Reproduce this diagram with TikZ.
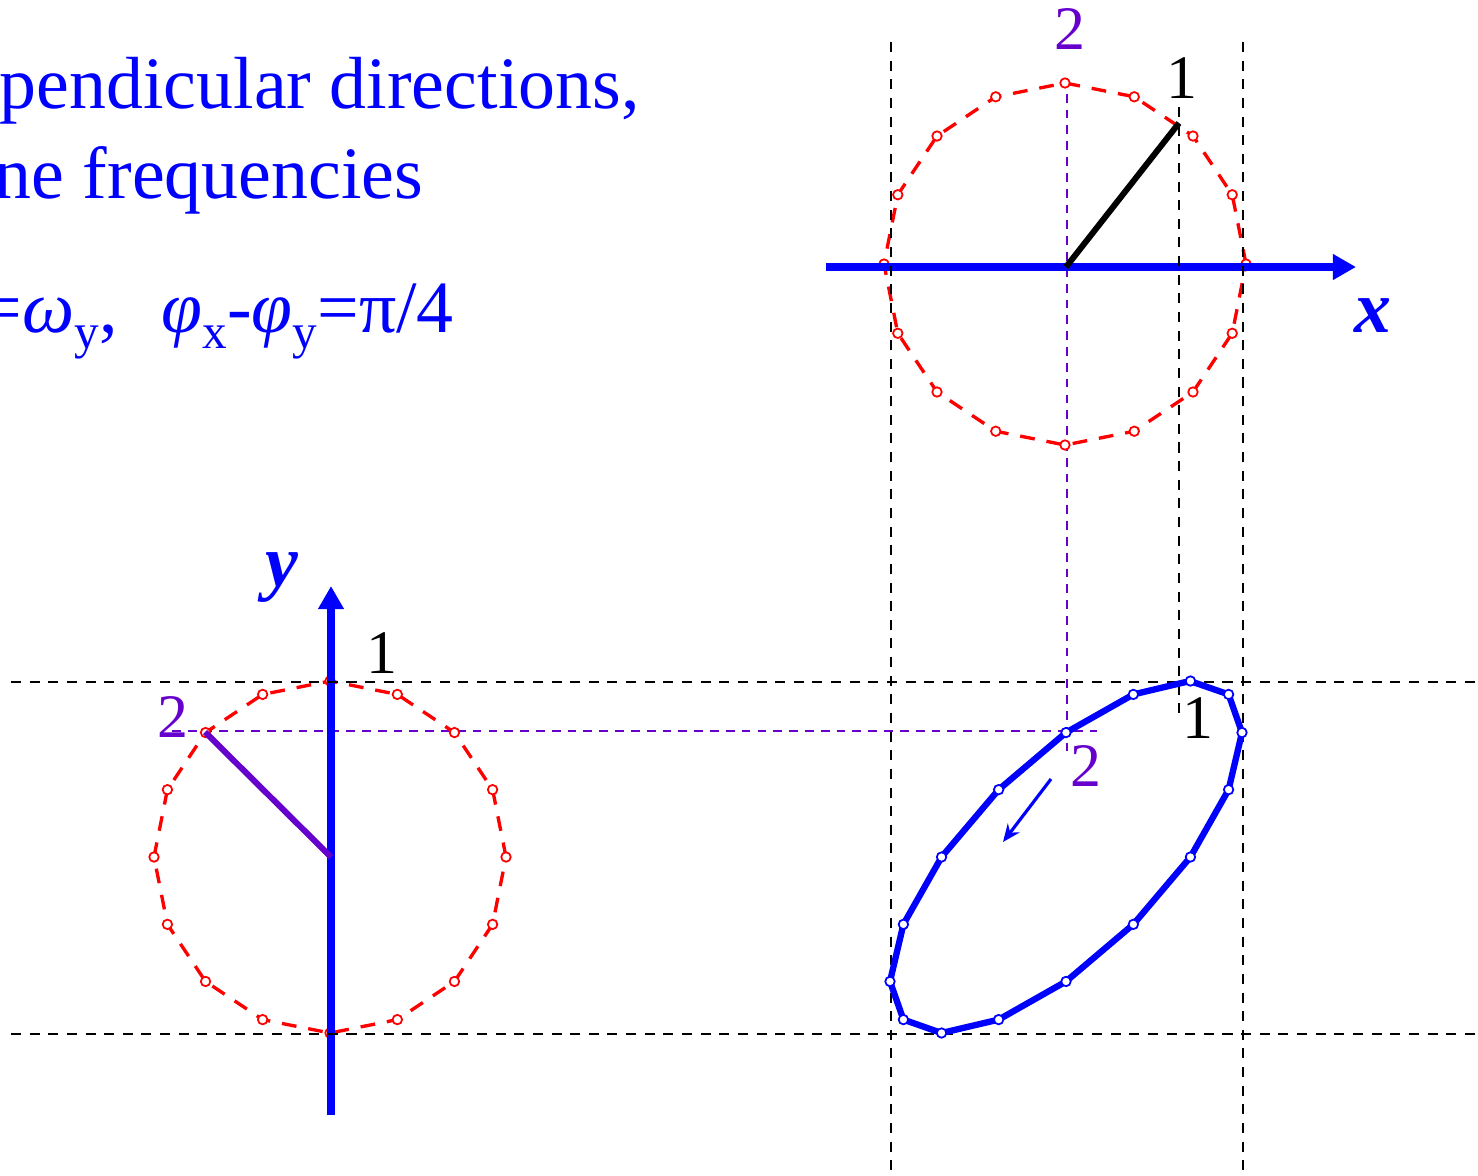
\documentclass[tikz,border=0pt]{standalone}
\usepackage{fontspec}
\setmainfont{Liberation Serif}
\usetikzlibrary{arrows.meta}
\definecolor{axblue}{HTML}{0000FF}
\definecolor{cred}{HTML}{FF0000}
\definecolor{purp}{HTML}{6600CC}
\newcommand{\lowsub}[1]{\raisebox{-4.8pt}{\fontsize{14}{14}\selectfont #1}}

\begin{document}
\begin{tikzpicture}[
  x=0.01cm, y=-0.01cm,
  >={Stealth[length=5pt, width=4.2pt]},
  txt/.style={font=\fontsize{21}{25}\selectfont, text=axblue, inner sep=0pt, anchor=base west},
  num/.style={font=\fontsize{17.6}{20}\selectfont, text=#1, inner sep=0pt},
  axlbl/.style={font=\fontsize{21}{25}\selectfont\bfseries\itshape, text=axblue, inner sep=0pt},
  axis/.style={axblue, line width=2.3pt, -{Triangle[length=6.6pt, width=7pt]}},
  circline/.style={cred, line width=0.95pt, dash pattern=on 4.2pt off 3.4pt},
  dot/.style={draw=#1, fill=white, line width=0.5pt},
  guide/.style={black, line width=0.8pt, dash pattern=on 2.85pt off 2.45pt},
  pguide/.style={purp, line width=0.65pt, dash pattern=on 2.5pt off 2pt},
  vec/.style={#1, line width=1.7pt},
]

% Background
\fill[white] (0,0) rectangle (1478,1175);
\useasboundingbox (0,0) rectangle (1478,1175);
\clip (0,0) rectangle (1478,1175);

% =============================================
% Text
% =============================================
\node[txt] (line1) at (-1,108) {pendicular directions,};
\node[txt] (line2) at (-6,198) {ne frequencies};
\node[txt] (line3) at (-20,332)
  {=\textit{ω}\lowsub{y},\hspace{0.6em}\textit{φ}\lowsub{x}-\textit{φ}\lowsub{y}=π/4};

% =============================================
% Centres and key points
% =============================================
\coordinate (xc) at (1065,264);
\coordinate (yc) at (330,857);
\coordinate (ec) at (1066,857);
\coordinate (x-p1) at (1179,123);
\coordinate (y-p2) at (205,732);
\coordinate (e-p2) at (1066,731);

% Purple projection lines
\draw[pguide] (1067,78) -- (1067,758);
\draw[pguide] (172,731) -- (1097,731);

% =============================================
% Reference circles (x on top, y on the left)
% =============================================
\draw[circline] (1246,264)
  \foreach \a in {22.5,45,...,337.5} { -- ({1065+181*cos(\a)},{264-181*sin(\a)}) } -- cycle;
\foreach \a in {0,22.5,...,337.5}
  \draw[dot=cred] ({1065+181*cos(\a)},{264-181*sin(\a)}) circle[radius=1.35pt];

\draw[circline] (506,857)
  \foreach \a in {22.5,45,...,337.5} { -- ({330+176*cos(\a)},{857-176*sin(\a)}) } -- cycle;
\foreach \a in {0,22.5,...,337.5}
  \draw[dot=cred] ({330+176*cos(\a)},{857-176*sin(\a)}) circle[radius=1.35pt];

% Axes
\coordinate (x-start) at (826,267);
\coordinate (x-end) at (1356,267);
\coordinate (y-start) at (331,1115);
\coordinate (y-end) at (331,586);
\draw[axis] (x-start) -- (x-end);
\draw[axis] (y-start) -- (y-end);

\node[axlbl] (x-lbl) at (1373,316) {x};
\node[axlbl] (y-lbl) at (282,578) {y};

% Rotating vectors
\draw[vec=black] (1066,267) -- (x-p1);
\draw[vec=purp] (331,857) -- (y-p2);

% =============================================
% Black guide lines
% =============================================
\draw[guide] (891,42) -- (891,1175);
\draw[guide] (1243,42) -- (1243,1175);
\draw[guide] (11,682) -- (1478,682);
\draw[guide] (11,1034) -- (1478,1034);
\draw[guide] (1179,107) -- (1179,714);

% =============================================
% Resulting ellipse
% =============================================
\draw[axblue, line width=1.8pt, line join=round] (1190,681)
  \foreach \a in {112.5,135,...,427.5} { -- ({1066+176*cos(\a-45)},{857-176*sin(\a)}) } -- cycle;
\foreach \a in {0,22.5,...,337.5}
  \draw[dot=axblue] ({1066+176*cos(\a-45)},{857-176*sin(\a)}) circle[radius=1.35pt];

\coordinate (dir-a) at (1051,779);
\coordinate (dir-b) at (1003,842);
\draw[->, axblue, line width=0.9pt] (dir-a) -- (dir-b);

% =============================================
% Point labels
% =============================================
\node[num=purp] (x-two) at (1070,29) {2};
\node[num=black] (x-one) at (1182,78) {1};
\node[num=black] (y-one) at (382,653) {1};
\node[num=purp] (y-two) at (173,717) {2};
\node[num=black] (e-one) at (1198,718) {1};
\node[num=purp] (e-two) at (1086,766) {2};

\end{tikzpicture}
\end{document}
